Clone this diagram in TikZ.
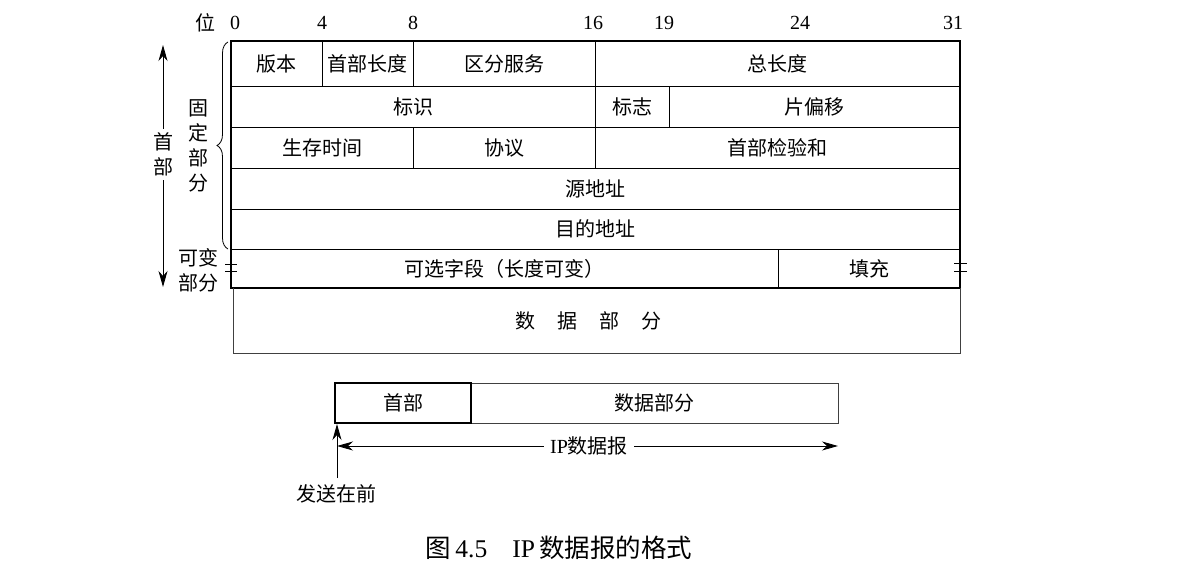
\documentclass[tikz,border=0pt]{standalone}
\usepackage{fontspec}
\setmainfont{Liberation Serif}
\newfontfamily\cjk{Noto Sans CJK SC}
\usetikzlibrary{arrows.meta,decorations.pathreplacing}
\newcommand\fld[6]{\node[cell, minimum width={(#4-#2)*1pt}, minimum height={(#5-#3)*1pt}] (#1) at ({(#2+#4)/2},{(#3+#5)/2}) {#6};}
\begin{document}
\begin{tikzpicture}[x=1pt,y=-1pt,
  cell/.style={draw=black, line width=0.8pt, inner sep=0pt, outer sep=0pt, font=\cjk\fontsize{20}{22}\selectfont},
  thickbox/.style={draw=black, line width=1.7pt, inner sep=0pt, outer sep=0pt},
  thinbox/.style={draw=black!75, line width=0.9pt, inner sep=0pt, outer sep=0pt},
  bitl/.style={font=\fontsize{20}{22}\selectfont, inner sep=0pt},
  ctxt/.style={font=\cjk\fontsize{20}{22}\selectfont, inner sep=0pt},
  vtxt/.style={font=\cjk\fontsize{20}{25}\selectfont, inner sep=0pt, align=center},
  arr/.style={line width=0.9pt, -{Stealth[length=16pt,width=9pt,inset=5pt]}},
  breakmark/.style={line width=0.8pt}
]
\useasboundingbox (0,0) rectangle (1194,569);
% bit labels
\node[ctxt] (wei) at (205,23) {位};
\node[bitl] (b0) at (235,23) {0};
\node[bitl] (b4) at (322,23) {4};
\node[bitl] (b8) at (413,23) {8};
\node[bitl] (b16) at (593,23) {16};
\node[bitl] (b19) at (664,23) {19};
\node[bitl] (b24) at (800,23) {24};
\node[bitl] (b31) at (953,23) {31};
% fields
\fld{ver}{231}{41}{322}{86}{版本}
\fld{ihl}{322}{41}{413}{86}{首部长度}
\fld{tos}{413}{41}{595}{86}{区分服务}
\fld{tlen}{595}{41}{960}{86}{总长度}
\fld{ident}{231}{86}{595}{127}{标识}
\fld{flags}{595}{86}{669}{127}{标志}
\fld{frag}{669}{86}{960}{127}{片偏移}
\fld{ttl}{231}{127}{413}{168}{生存时间}
\fld{proto}{413}{127}{595}{168}{协议}
\fld{csum}{595}{127}{960}{168}{首部检验和}
\fld{src}{231}{168}{960}{209}{源地址}
\fld{dst}{231}{209}{960}{249}{目的地址}
\fld{opt}{231}{249}{778}{288}{可选字段（长度可变）}
\fld{pad}{778}{249}{960}{288}{填充}
\node[thickbox, minimum width=729pt, minimum height=247pt] (hdr) at (595.5,164.5) {};
% data part
\draw[thinbox] (233,288) -- (233,353) -- (960,353) -- (960,288);
\node[ctxt] (data) at (588,321) {数\hspace{22pt}据\hspace{22pt}部\hspace{22pt}分};
% break marks
\draw[breakmark] (225,264) -- (237,264) (225,271) -- (237,271);
\draw[breakmark] (954,263) -- (967,263) (954,271) -- (967,271);
% brace
\draw[line width=0.8pt, decorate, decoration={brace, amplitude=11pt}] (228,249) -- (228,42);
\node[vtxt] (fixed) at (198,145.5) {固\\定\\部\\分};
\node[vtxt] (var) at (198,270) {可变\\部分};
% head arrow
\node[vtxt] (head) at (163,154.5) {首\\部};
\coordinate (htop) at (163,45);
\coordinate (hbot) at (163,287);
\draw[arr] (head.north) ++(0,-4) -- (htop);
\draw[arr] (head.south) ++(0,4) -- (hbot);
% bottom diagram
\node[thinbox, minimum width=367pt, minimum height=40pt, font=\cjk\fontsize{20}{22}\selectfont] (dpart) at (654.5,403) {数据部分};
\node[thickbox, minimum width=136pt, minimum height=40pt, font=\cjk\fontsize{20}{22}\selectfont] (hpart) at (403,403) {首部};
\node[font=\fontsize{20}{22}\selectfont, inner sep=0pt] (ipd) at (589,446) {IP{\cjk 数据报}};
\coordinate (ipL) at (337,446);
\coordinate (ipR) at (838,446);
\draw[arr] (ipd.west) ++(-6,0) -- (ipL);
\draw[arr] (ipd.east) ++(6,0) -- (ipR);
\node[ctxt] (send) at (336,494) {发送在前};
\coordinate (sendtip) at (337,424);
\draw[arr] (337,478) -- (sendtip);
% caption
\node[font=\fontsize{25.5}{27}\selectfont, inner sep=0pt] (cap) at (559,548) {{\cjk 图}\,4.5\hspace{25pt}IP\,{\cjk 数据报的格式}};
\end{tikzpicture}
\end{document}
